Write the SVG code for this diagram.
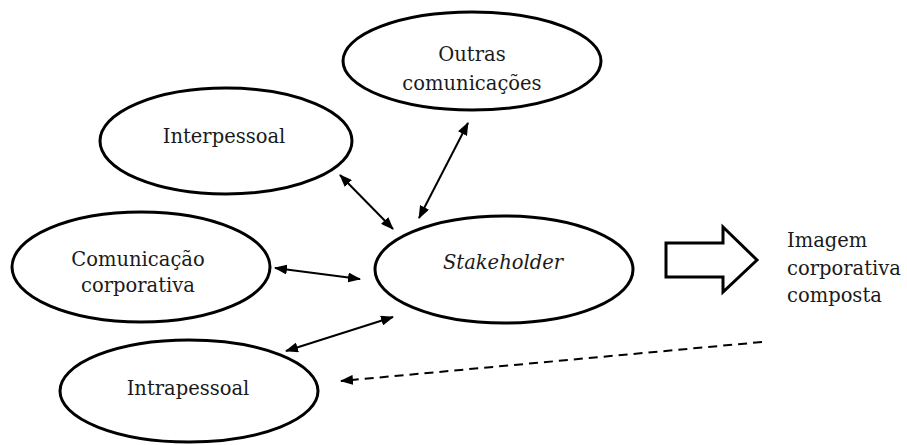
<svg xmlns="http://www.w3.org/2000/svg" width="907" height="445" viewBox="0 0 907 445">
<style>
.node ellipse{fill:#fff;stroke:#000;stroke-width:3}
text{font-family:"DejaVu Serif","Liberation Serif",serif;font-size:19.5px;fill:#1a1a1a;text-anchor:middle}
text.l{text-anchor:start}
.conn line{stroke:#000;stroke-width:2}
.dash{stroke-dasharray:9 6}
</style>
<defs>
<marker id="ah" viewBox="0 0 13 10" refX="12" refY="5" markerWidth="13" markerHeight="10" markerUnits="userSpaceOnUse" orient="auto-start-reverse">
<path d="M0,0 L13,5 L0,10 Z" fill="#000"/>
</marker>
</defs>
<rect width="907" height="445" fill="#fff"/>
<g id="outras" class="node">
<ellipse cx="472" cy="61" rx="129" ry="49"/>
<text x="472" y="61">Outras</text>
<text x="472" y="90">comunicações</text>
</g>
<g id="interpessoal" class="node">
<ellipse cx="226" cy="141" rx="126" ry="53"/>
<text x="224" y="143">Interpessoal</text>
</g>
<g id="comunicacao" class="node">
<ellipse cx="141" cy="267" rx="129" ry="55"/>
<text x="138" y="266">Comunicação</text>
<text x="138" y="292">corporativa</text>
</g>
<g id="stakeholder" class="node">
<ellipse cx="504" cy="269.5" rx="129" ry="53.5"/>
<text x="503" y="269" font-style="italic">Stakeholder</text>
</g>
<g id="intrapessoal" class="node">
<ellipse cx="189" cy="391" rx="129" ry="51"/>
<text x="188" y="395">Intrapessoal</text>
</g>
<g id="imagem">
<path d="M666,243 L723,243 L723,227 L757,260 L723,292 L723,277 L666,277 Z" fill="#fff" stroke="#000" stroke-width="3" stroke-linejoin="miter"/>
<text class="l" x="787" y="247">Imagem</text>
<text class="l" x="787" y="275">corporativa</text>
<text class="l" x="787" y="302">composta</text>
</g>
<g id="connectors" class="conn">
<line x1="340" y1="175" x2="393" y2="229" marker-start="url(#ah)" marker-end="url(#ah)"/>
<line x1="468" y1="123" x2="419" y2="218" marker-start="url(#ah)" marker-end="url(#ah)"/>
<line x1="275" y1="268" x2="360" y2="279" marker-start="url(#ah)" marker-end="url(#ah)"/>
<line x1="286" y1="351" x2="393" y2="317" marker-start="url(#ah)" marker-end="url(#ah)"/>
<line class="dash" x1="762" y1="342" x2="341" y2="381" marker-end="url(#ah)"/>
</g>
</svg>
